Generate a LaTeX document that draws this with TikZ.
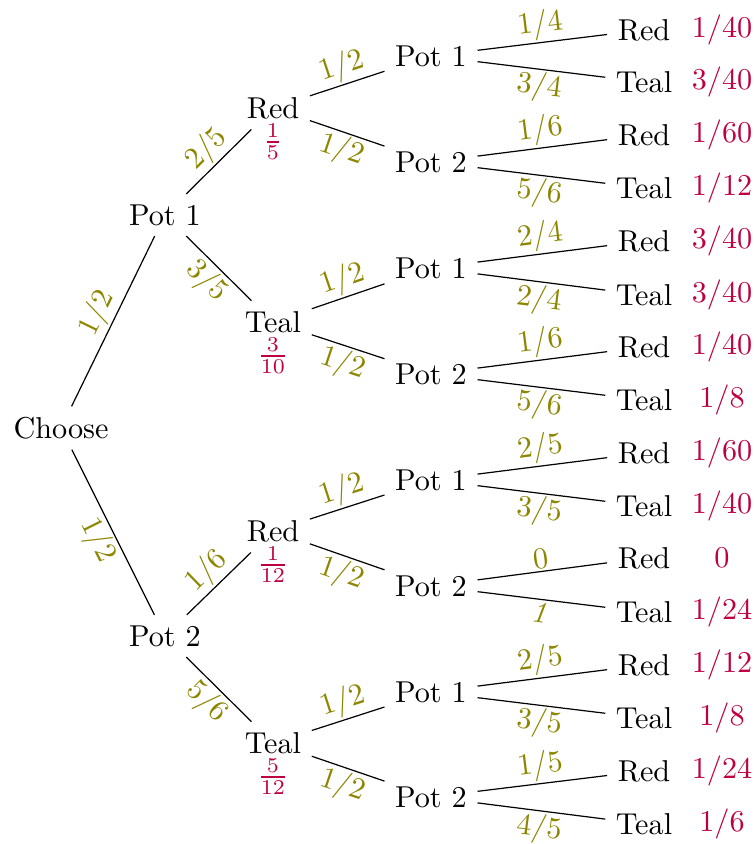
\documentclass[tikz,border=0pt]{standalone}
\begin{document}
\begin{tikzpicture}[x=0.3311pt,y=0.3311pt,
  tn/.style={inner sep=3.33pt},
  lab/.style={text=olive,sloped,inner sep=0.7pt},
  pr/.style={text=purple},
  fr/.style={text=purple}]
\useasboundingbox (0,0) rectangle (755,-844);
% root and level 1
\node[tn] (c) at (61,-428) {Choose};
\node[tn] (a1) at (165,-215) {Pot 1};
\node[tn] (a2) at (165,-636) {Pot 2};
\draw (c) -- node[lab,above]{$1/2$} (a1);
\draw (c) -- node[lab,below]{$1/2$} (a2);
% level 2
\node[tn] (b1) at (273,-108) {Red};
\node[tn] (b2) at (273,-322) {Teal};
\node[tn] (b3) at (273,-531) {Red};
\node[tn] (b4) at (273,-743) {Teal};
\node[fr] (f1) at (273,-142) {$\frac{1}{5}$};
\node[fr] (f2) at (273,-356) {$\frac{3}{10}$};
\node[fr] (f3) at (273,-565) {$\frac{1}{12}$};
\node[fr] (f4) at (273,-777) {$\frac{5}{12}$};
\draw (a1) -- node[lab,above]{$2/5$} (b1);
\draw (a1) -- node[lab,below]{$3/5$} (b2);
\draw (a2) -- node[lab,above]{$1/6$} (b3);
\draw (a2) -- node[lab,below]{$5/6$} (b4);
% level 3
\foreach \i/\y/\t in {1/56/1,2/162/2,3/268/1,4/374/2,5/480/1,6/586/2,7/692/1,8/797/2}{
  \node[tn] (p\i) at (431,-\y) {Pot \t};
}
\foreach \i/\p/\s in {1/1/above,2/1/below,3/2/above,4/2/below,5/3/above,6/3/below,7/4/above,8/4/below}{
  \draw (b\p) -- node[lab,\s]{$1/2$} (p\i);
}
% leaves
\foreach \i/\y/\t/\p/\e/\s/\r in {
  1/30/Red/1/{$1/4$}/above/{1/40},
  2/82/Teal/1/{$3/4$}/below/{3/40},
  3/135/Red/2/{$1/6$}/above/{1/60},
  4/188/Teal/2/{$5/6$}/below/{1/12},
  5/241/Red/3/{$2/4$}/above/{3/40},
  6/295/Teal/3/{$2/4$}/below/{3/40},
  7/347/Red/4/{$1/6$}/above/{1/40},
  8/400/Teal/4/{$5/6$}/below/{1/8},
  9/453/Red/5/{$2/5$}/above/{1/60},
  10/506/Teal/5/{$3/5$}/below/{1/40},
  11/558/Red/6/{$0$}/above/{0},
  12/612/Teal/6/{\textit{1}}/below/{1/24},
  13/665/Red/7/{$2/5$}/above/{1/12},
  14/718/Teal/7/{$3/5$}/below/{1/8},
  15/771/Red/8/{$1/5$}/above/{1/24},
  16/824/Teal/8/{$4/5$}/below/{1/6}}{
  \node[tn] (l\i) at (644,-\y) {\t};
  \node[pr] (q\i) at (722,-\y) {$\r$};
  \draw (p\p) -- node[lab,\s]{\e} (l\i);
}
\end{tikzpicture}
\end{document}
